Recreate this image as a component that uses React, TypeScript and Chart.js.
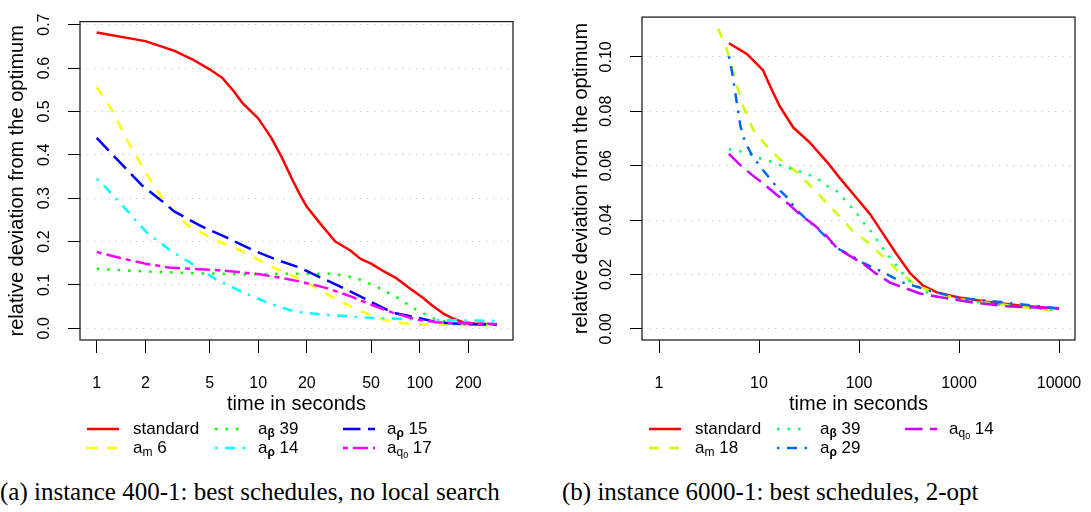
import React, { useEffect, useRef } from "react";
import { Chart, registerables } from "chart.js";

Chart.register(...registerables);

const FONT = "'Liberation Sans', Arial, Helvetica, sans-serif";

// ---------------- left panel: instance 400-1 ----------------
const leftXTicks = [1, 2, 5, 10, 20, 50, 100, 200];
const leftYTicks = [0, 0.1, 0.2, 0.3, 0.4, 0.5, 0.6, 0.7];

const leftStandardT = [1, 2, 3, 4, 5, 6, 7, 8, 10, 12, 14, 16, 18, 20, 24, 30, 37, 43, 50, 60, 72, 87, 105, 120, 140, 160, 185, 220, 260, 300];
const leftStandardY = [0.682, 0.662, 0.64, 0.618, 0.597, 0.577, 0.548, 0.519, 0.484, 0.44, 0.394, 0.348, 0.31, 0.28, 0.243, 0.2, 0.18, 0.16, 0.149, 0.131, 0.115, 0.092, 0.07, 0.052, 0.034, 0.023, 0.014, 0.011, 0.01, 0.009];

const leftAmT = [1, 1.2, 1.6, 2, 2.6, 3, 3.6, 5.3, 7.7, 11, 14, 18, 23, 30, 40, 54, 68, 96, 150, 300];
const leftAmY = [0.556, 0.513, 0.423, 0.36, 0.295, 0.27, 0.239, 0.205, 0.18, 0.15, 0.131, 0.115, 0.092, 0.068, 0.045, 0.025, 0.014, 0.009, 0.008, 0.007];

const leftBetaT = [1, 2, 4, 9, 15, 28, 35, 43, 57, 73, 93, 121, 161, 300];
const leftBetaY = [0.137, 0.131, 0.127, 0.124, 0.126, 0.126, 0.121, 0.112, 0.092, 0.07, 0.045, 0.023, 0.01, 0.008];

const leftRho14T = [1, 1.13, 1.46, 2.05, 2.84, 4, 5.5, 8.5, 12, 17, 25, 40, 60, 100, 200, 300];
const leftRho14Y = [0.345, 0.326, 0.281, 0.22, 0.18, 0.146, 0.112, 0.079, 0.056, 0.038, 0.032, 0.026, 0.023, 0.02, 0.018, 0.017];

const leftRho15T = [1, 1.3, 1.9, 2.6, 3, 4.4, 6.4, 9.3, 13, 18, 25, 35, 50, 68, 96, 127, 180, 300];
const leftRho15Y = [0.439, 0.394, 0.33, 0.29, 0.27, 0.236, 0.209, 0.18, 0.158, 0.14, 0.115, 0.09, 0.061, 0.036, 0.025, 0.014, 0.01, 0.008];

const leftQ0T = [1, 1.4, 2, 2.8, 5, 7, 10, 14, 18, 27, 37, 52, 68, 96, 127, 200, 300];
const leftQ0Y = [0.176, 0.162, 0.149, 0.14, 0.135, 0.131, 0.125, 0.116, 0.108, 0.092, 0.074, 0.052, 0.036, 0.02, 0.014, 0.011, 0.01];

const leftLabelMain = ["standard", "a", "a", "a", "a", "a"];
const leftLabelSub = ["", "m", "β", "ρ", "ρ", "q"];
const leftLabelSubSub = ["", "", "", "", "", "0"];
const leftLabelRest = ["", " 6", " 39", " 14", " 15", " 17"];

// ---------------- right panel: instance 6000-1 ----------------
const rightXTicks = [1, 10, 100, 1000, 10000];
const rightYTicks = [0, 0.02, 0.04, 0.06, 0.08, 0.1];

const rightStandardT = [5, 7.6, 11, 13, 16, 22, 32, 48, 64, 95, 130, 175, 237, 322, 437, 600, 1000, 1900, 4000, 10000];
const rightStandardY = [0.105, 0.101, 0.095, 0.089, 0.082, 0.074, 0.0686, 0.0613, 0.0555, 0.048, 0.042, 0.0348, 0.0275, 0.0206, 0.0159, 0.0134, 0.0115, 0.01, 0.0086, 0.0075];

const rightAmT = [3.9, 4.8, 5.75, 6.9, 8.7, 11.7, 16, 23.6, 34.7, 46, 64, 87, 129, 182, 257, 380, 600, 1000, 2000, 4000, 10000];
const rightAmY = [0.1104, 0.1025, 0.0916, 0.082, 0.0734, 0.0675, 0.0625, 0.0577, 0.0516, 0.0468, 0.0413, 0.0359, 0.0312, 0.0257, 0.0206, 0.0159, 0.013, 0.011, 0.0095, 0.0082, 0.0065];

const rightBetaT = [5, 6.3, 8, 10, 12.6, 15.8, 25, 31.6, 40, 48, 59, 69, 81, 95, 110, 129, 170, 229, 309, 407, 575, 1000, 2000, 4000, 10000];
const rightBetaY = [0.066, 0.0654, 0.0643, 0.0628, 0.0617, 0.0603, 0.058, 0.0566, 0.0548, 0.0525, 0.0508, 0.0483, 0.0453, 0.0424, 0.0392, 0.0362, 0.03, 0.0239, 0.018, 0.0148, 0.0119, 0.0107, 0.0093, 0.0082, 0.0068];

const rightRhoT = [5, 5.4, 6, 6.5, 7.2, 8.5, 10.2, 12.9, 15.5, 19.5, 23.6, 30, 38, 48, 60, 81, 110, 150, 204, 277, 380, 513, 950, 1900, 3500, 10000];
const rightRhoY = [0.1002, 0.094, 0.083, 0.0747, 0.069, 0.0638, 0.0598, 0.0552, 0.0516, 0.048, 0.0438, 0.0402, 0.037, 0.0334, 0.0297, 0.0272, 0.0242, 0.022, 0.0195, 0.017, 0.0155, 0.014, 0.0115, 0.0104, 0.0093, 0.0075];

const rightQ0T = [5, 6.5, 8.5, 11, 15, 20, 25.7, 35, 47.6, 60, 81, 110, 150, 204, 277, 407, 760, 1380, 3000, 10000];
const rightQ0Y = [0.0643, 0.0602, 0.0566, 0.0534, 0.0493, 0.0457, 0.042, 0.0384, 0.0341, 0.0297, 0.0268, 0.0239, 0.0202, 0.017, 0.0152, 0.013, 0.0112, 0.0097, 0.0083, 0.0075];

const rightLabelMain = ["standard", "a", "a", "a", "a"];
const rightLabelSub = ["", "m", "β", "ρ", "q"];
const rightLabelSubSub = ["", "", "", "", "0"];
const rightLabelRest = ["", " 18", " 39", " 29", " 14"];

const leftCaption = "(a) instance 400-1: best schedules, no local search";
const rightCaption = "(b) instance 6000-1: best schedules, 2-opt";

// ---------------- styles ----------------
const leftColors = ["#FF0000", "#FFFF00", "#00FF00", "#00FFFF", "#0000FF", "#FF00FF"];
const rightColors = ["#FF0000", "#CCFF00", "#00FF66", "#0066FF", "#CC00FF"];
const dashPatterns = [[], [10, 10], [2.5, 8], [2.5, 7.5, 10, 7.5], [17.5, 7.5], [5, 5, 15, 5]];

const CANVAS_W = 553;
const CANVAS_H = 470;

type PanelProps = {
  ts: number[][];
  ys: number[][];
  colors: string[];
  main: string[];
  sub: string[];
  subsub: string[];
  rest: string[];
  xTicks: number[];
  yTicks: number[];
  xMin: number;
  xMax: number;
  yMin: number;
  yMax: number;
  yDecimals: number;
  yTickPad: number;
  yTitlePad: number;
};

const LEGEND_COLS = [
  [87, 119, 133],
  [215, 245, 258],
  [343, 375, 387],
];
const LEGEND_ROWS = [429, 448];

function drawLegendLabel(ctx: CanvasRenderingContext2D, main: string, sub: string, subsub: string, rest: string, x0: number, y: number) {
  let x = x0;
  ctx.fillStyle = "#000";
  ctx.textAlign = "left";
  ctx.textBaseline = "middle";
  ctx.font = `17px ${FONT}`;
  ctx.fillText(main, x, y);
  x += ctx.measureText(main).width;
  if (sub) {
    const greek = /[\u0370-\u03ff]/.test(sub);
    ctx.font = `${greek ? "bold " : ""}12px ${FONT}`;
    ctx.fillText(sub, x, y + 5);
    x += ctx.measureText(sub).width;
  }
  if (subsub) {
    ctx.font = `9px ${FONT}`;
    ctx.fillText(subsub, x, y + 8);
    x += ctx.measureText(subsub).width;
  }
  if (rest) {
    ctx.font = `17px ${FONT}`;
    ctx.fillText(rest, x, y);
  }
}

function Panel(p: PanelProps) {
  const ref = useRef<HTMLCanvasElement | null>(null);
  useEffect(() => {
    if (!ref.current) return;
    const n = p.ts.length;
    const datasets = p.ts.map((t, i) => ({
      label: p.main[i] + p.sub[i] + p.subsub[i] + p.rest[i],
      data: t.map((tv, k) => ({ x: tv, y: p.ys[i][k] })),
      borderColor: p.colors[i],
      backgroundColor: p.colors[i],
      borderWidth: 2.5,
      borderDash: dashPatterns[i],
      borderCapStyle: "butt" as const,
      borderJoinStyle: "round" as const,
      pointRadius: 0,
      fill: false,
      tension: 0,
      order: n - 1 - i,
    }));

    const boxPlugin = {
      id: "rBox",
      afterDraw(chart: any) {
        const { ctx, chartArea: a } = chart;
        ctx.save();
        ctx.strokeStyle = "#222";
        ctx.lineWidth = 1.3;
        ctx.setLineDash([]);
        ctx.strokeRect(a.left, a.top, a.right - a.left, a.bottom - a.top);
        ctx.restore();
      },
    };

    const legendPlugin = {
      id: "rLegend",
      afterDraw(chart: any) {
        const ctx = chart.ctx as CanvasRenderingContext2D;
        chart.data.datasets.forEach((d: any, i: number) => {
          const c = LEGEND_COLS[Math.floor(i / 2)];
          const y = LEGEND_ROWS[i % 2];
          ctx.save();
          ctx.strokeStyle = d.borderColor;
          ctx.lineWidth = d.borderWidth;
          ctx.setLineDash(d.borderDash || []);
          ctx.lineCap = "butt";
          ctx.beginPath();
          ctx.moveTo(c[0], y);
          ctx.lineTo(c[1], y);
          ctx.stroke();
          ctx.restore();
          ctx.save();
          drawLegendLabel(ctx, p.main[i], p.sub[i], p.subsub[i], p.rest[i], c[2], y);
          ctx.restore();
        });
      },
    };

    const chart = new Chart(ref.current, {
      type: "line",
      data: { datasets },
      options: {
        responsive: false,
        animation: false,
        devicePixelRatio: 1,
        layout: { padding: { left: 0, top: 14, right: CANVAS_W - 513, bottom: 0 } },
        plugins: { legend: { display: false }, tooltip: { enabled: false } },
        font: { family: FONT },
        scales: {
          x: {
            type: "logarithmic",
            min: p.xMin,
            max: p.xMax,
            afterBuildTicks: (s: any) => {
              s.ticks = p.xTicks.map((v) => ({ value: v }));
            },
            afterFit: (s: any) => {
              s.height = 130;
            },
            ticks: {
              autoSkip: false,
              maxRotation: 0,
              minRotation: 0,
              color: "#000",
              font: { size: 16, family: FONT },
              padding: 21,
              callback: (v: any) => String(v),
            },
            grid: {
              drawOnChartArea: false,
              drawTicks: true,
              tickLength: 13,
              tickColor: "#000",
              tickWidth: 1,
              color: "#000",
            },
            border: { display: false },
            title: {
              display: true,
              text: "time in seconds",
              color: "#000",
              font: { size: 20, family: FONT },
              padding: { top: 0, bottom: 54 },
            },
          },
          y: {
            type: "linear",
            min: p.yMin,
            max: p.yMax,
            afterBuildTicks: (s: any) => {
              s.ticks = p.yTicks.map((v) => ({ value: v }));
            },
            afterFit: (s: any) => {
              s.width = 80;
            },
            ticks: {
              color: "#000",
              font: { size: 16, family: FONT },
              minRotation: 90,
              maxRotation: 90,
              crossAlign: "center",
              padding: p.yTickPad,
              callback: (v: any) => Number(v).toFixed(p.yDecimals),
            },
            grid: {
              color: "#cccccc",
              lineWidth: 1,
              tickColor: "#000",
              tickLength: 12,
              tickWidth: 1,
              tickBorderDash: [],
            },
            border: { display: false, dash: [1.5, 5.5] },
            title: {
              display: true,
              text: "relative deviation from the optimum",
              color: "#000",
              font: { size: 20, family: FONT },
              padding: { top: p.yTitlePad, bottom: 0 },
            },
          },
        },
      } as any,
      plugins: [boxPlugin, legendPlugin],
    });
    return () => chart.destroy();
  }, []);
  return <canvas ref={ref} width={CANVAS_W} height={CANVAS_H} style={{ display: "block", width: CANVAS_W, height: CANVAS_H }} />;
}

export default function App() {
  const captionStyle: React.CSSProperties = {
    position: "absolute",
    top: 479,
    fontFamily: "'Liberation Serif', 'DejaVu Serif', serif",
    fontSize: 25,
    lineHeight: "25px",
    whiteSpace: "nowrap",
    color: "#000",
  };
  return (
    <div style={{ position: "absolute", left: 0, top: 0, width: 1091, height: 512, background: "#fff", overflow: "hidden" }}>
      <div style={{ position: "absolute", left: 0, top: 0 }}>
        <Panel
          ts={[leftStandardT, leftAmT, leftBetaT, leftRho14T, leftRho15T, leftQ0T]}
          ys={[leftStandardY, leftAmY, leftBetaY, leftRho14Y, leftRho15Y, leftQ0Y]}
          colors={leftColors}
          main={leftLabelMain}
          sub={leftLabelSub}
          subsub={leftLabelSubSub}
          rest={leftLabelRest}
          xTicks={leftXTicks}
          yTicks={leftYTicks}
          xMin={0.788}
          xMax={378}
          yMin={-0.027}
          yMax={0.707}
          yDecimals={1}
          yTickPad={12}
          yTitlePad={5.5}
        />
      </div>
      <div style={{ position: "absolute", left: 562, top: 0 }}>
        <Panel
          ts={[rightStandardT, rightAmT, rightBetaT, rightRhoT, rightQ0T]}
          ys={[rightStandardY, rightAmY, rightBetaY, rightRhoY, rightQ0Y]}
          colors={rightColors}
          main={rightLabelMain}
          sub={rightLabelSub}
          subsub={rightLabelSubSub}
          rest={rightLabelRest}
          xTicks={rightXTicks}
          yTicks={rightYTicks}
          xMin={0.676}
          xMax={14450}
          yMin={-0.0041}
          yMax={0.1146}
          yDecimals={2}
          yTickPad={7.5}
          yTitlePad={7.5}
        />
      </div>
      <div style={{ ...captionStyle, left: 0 }}>{leftCaption}</div>
      <div style={{ ...captionStyle, left: 562 }}>{rightCaption}</div>
    </div>
  );
}
